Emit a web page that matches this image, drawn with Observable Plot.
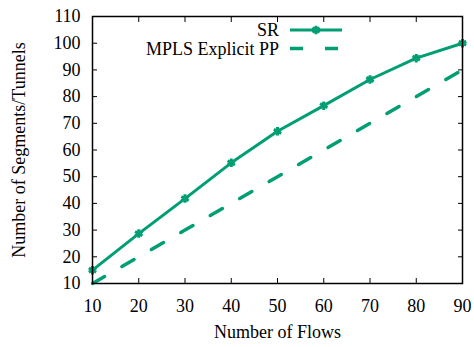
<!DOCTYPE html>
<html><head><meta charset="utf-8">
<script src="https://cdn.jsdelivr.net/npm/d3@7"></script>
<script src="https://cdn.jsdelivr.net/npm/@observablehq/plot@0.6"></script>
<style>body{margin:0;background:#fff}</style>
</head><body><div id="chart"></div>
<script>
const flows = [10, 20, 30, 40, 50, 60, 70, 80, 90];
const sr = [15, 28.7, 41.8, 55.2, 67, 76.6, 86.4, 94.4, 100];
const mpls = [10, 20, 30, 40, 50, 60, 70, 80, 90];
const xTicks = [10, 20, 30, 40, 50, 60, 70, 80, 90];
const yTicks = [10, 20, 30, 40, 50, 60, 70, 80, 90, 100, 110];
const seriesNames = ["SR", "MPLS Explicit PP"];
const color = "#009e73";

const srData = flows.map((f, i) => ({x: f, y: sr[i]}));
const mplsData = flows.map((f, i) => ({x: f, y: mpls[i]}));

const chart = Plot.plot({
  width: 474, height: 347,
  marginLeft: 92, marginRight: 12, marginTop: 16, marginBottom: 64,
  style: {fontFamily: "'Liberation Serif', serif", fontSize: "18px", color: "#000", background: "#fff"},
  x: {domain: [10, 90]},
  y: {domain: [10, 110]},
  marks: [
    Plot.axisX({anchor: "bottom", ticks: xTicks, tickSize: -5, tickPadding: 21, label: "Number of Flows", labelAnchor: "center", labelArrow: "none", labelOffset: 54, stroke: "#000"}),
    Plot.axisX({anchor: "top", ticks: xTicks, tickSize: -5, text: null, label: null, stroke: "#000"}),
    Plot.axisY({anchor: "left", ticks: yTicks, tickSize: -5, tickPadding: 17, label: "Number of Segments/Tunnels", labelAnchor: "center", labelArrow: "none", labelOffset: 80, stroke: "#000"}),
    Plot.axisY({anchor: "right", ticks: yTicks, tickSize: -5, text: null, label: null, stroke: "#000"}),
    Plot.line(mplsData, {x: "x", y: "y", stroke: color, strokeWidth: 3.5, strokeDasharray: "14,20"}),
    Plot.line(srData, {x: "x", y: "y", stroke: color, strokeWidth: 3}),
    Plot.dot(srData, {x: "x", y: "y", symbol: "asterisk", r: 4, stroke: color, strokeWidth: 3}),
    Plot.frame({stroke: "#000", strokeWidth: 1.5})
  ]
});
document.getElementById("chart").appendChild(chart);

// legend inside plot
const svg = d3.select(chart);
const lx0 = 290, lx1 = 342;
const rows = [{name: seriesNames[0], y: 30, dash: null}, {name: seriesNames[1], y: 48.5, dash: "13,22"}];
const g = svg.append("g").attr("font-family", "'Liberation Serif', serif").attr("font-size", 18);
rows.forEach((r) => {
  g.append("text").attr("x", lx0 - 11).attr("y", r.y).attr("dy", "0.35em").attr("text-anchor", "end").text(r.name);
  g.append("line").attr("x1", lx0).attr("x2", lx1).attr("y1", r.y).attr("y2", r.y)
    .attr("stroke", color).attr("stroke-width", r.dash ? 3.5 : 3).attr("stroke-dasharray", r.dash);
  if (!r.dash) {
    g.append("path").attr("d", d3.symbol(d3.symbolAsterisk, Math.PI * 16)()).attr("transform", `translate(${(lx0 + lx1) / 2},${r.y})`)
      .attr("fill", "none").attr("stroke", color).attr("stroke-width", 3);
  }
});
</script></body></html>
